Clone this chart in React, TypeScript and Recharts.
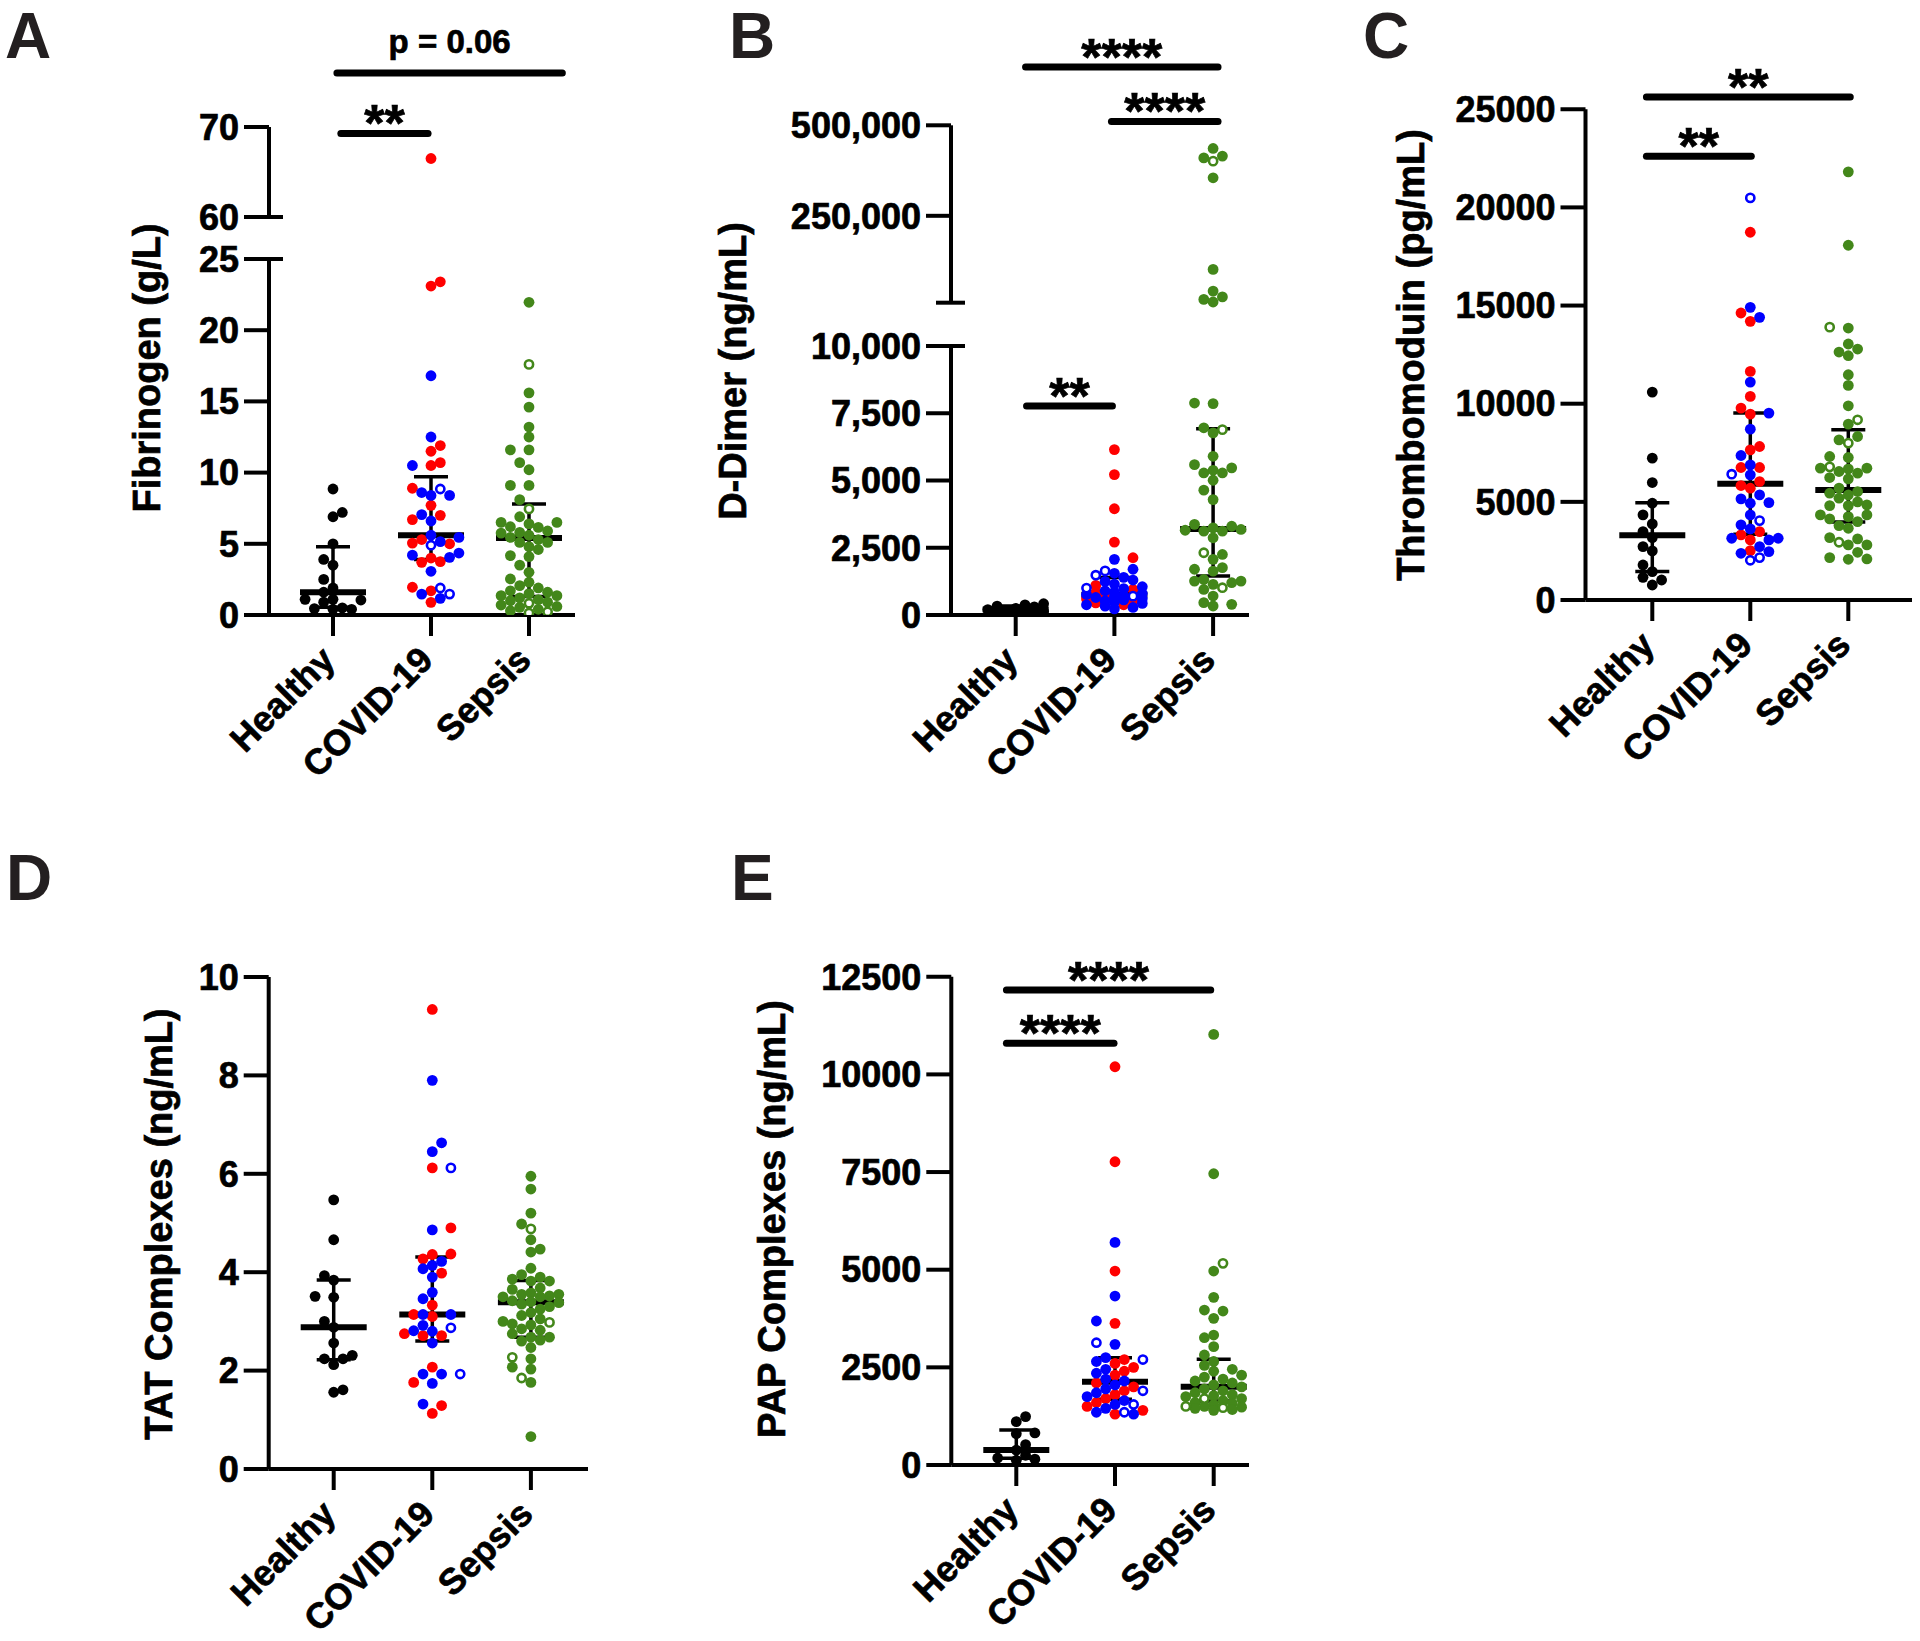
import React from 'react';
import { ScatterChart, Scatter, XAxis, YAxis, ReferenceLine } from 'recharts';

const FONT = '"Liberation Sans", Arial, Helvetica, sans-serif';
const BLACK = '#000000';
const RED = '#ff0000';
const BLUE = '#0000ff';
const GREEN = '#43871a';
const TEXT_STROKE = 0.7;
const PAGE_H = 1641;

const categories = ['Healthy', 'COVID-19', 'Sepsis'];

// ---------- Panel A : Fibrinogen (g/L) ----------
const fibTicks = [0, 5, 10, 15, 20, 25, 60, 70];
const fibHealthy = [8.85, 7.2, 6.9, 5.0, 3.9, 3.5, 2.5, 1.9, 1.6, 1.1, 1.05, 1.1, 0.9, 0.4, 0.45, 0.5, 0.4];
const fibCovidRed = [66.5, 23.1, 23.4, 11.9, 11.5, 10.7, 10.5, 8.9, 7.7, 7.0, 6.7, 5.05, 5.3, 5.0, 3.75, 4.0, 3.7, 1.95, 1.7, 0.89];
const fibCovidBlue = [16.8, 12.5, 10.5, 8.6, 8.4, 8.4, 7.05, 6.6, 5.45, 5.6, 5.15, 4.2, 4.35, 4.05, 3.07, 1.17, 1.47];
const fibCovidBlueOpen = [8.85, 4.9, 1.9, 1.47];
const fibSepsis = [21.96, 15.6, 14.6, 13.2, 12.5, 11.6, 11.6, 10.7, 10.2, 9.1, 9.1, 8.1, 6.4, 6.5, 6.9, 6.5, 5.75, 5.8, 6.15, 5.1, 5.1, 5.45, 5.6, 4.8, 4.1, 4.17, 3.5, 2.53, 2.06, 1.7, 1.6, 1.36, 1.36, 0.9, 1.08, 1.0, 0.4, 0.54, 6.2, 5.9, 5.3, 4.6, 3.0, 2.3, 1.9, 1.2, 0.7, 0.6, 0.3, 1.5];
const fibSepsisOpen = [17.6, 7.45, 0.82, 0.23, 0.14];
const fibMedian = [1.6, 5.6, 5.4];
const fibQ1 = [0.55, 3.9, 1.3];
const fibQ3 = [4.8, 9.7, 7.8];

// ---------- Panel B : D-Dimer (ng/mL) ----------
const ddTicks = [0, 2500, 5000, 7500, 10000, 250000, 500000];
const ddHealthy = [420, 380, 330, 300, 250, 200, 160, 130, 100, 80, 60, 40];
const ddCovidRed = [6150, 5220, 3950, 2710, 2130, 1100, 950, 830, 700, 600, 520, 450, 380];
const ddCovidBlue = [2070, 1700, 1550, 1400, 1300, 1250, 1150, 1050, 980, 900, 850, 800, 760, 720, 680, 650, 600, 560, 520, 480, 430, 380, 330, 280, 230];
const ddCovidBlueOpen = [1640, 1480, 1000, 700];
const ddSepsis = [436000, 415000, 410000, 355000, 102000, 42000, 26000, 19000, 12000, 7880, 7860, 6770, 6960, 5900, 5590, 5470, 5380, 5280, 5280, 5010, 4640, 4290, 3370, 3240, 3180, 3120, 3120, 2870, 2250, 2070, 1760, 1700, 1630, 1320, 1260, 1260, 1200, 1140, 950, 705, 458, 396, 334, 3300, 3150];
const ddSepsisOpen = [401000, 6890, 2314, 1015];
const ddMedian = [200, 750, 3200];
const ddQ1 = [90, 580, 1450];
const ddQ3 = [330, 1390, 6920];

// ---------- Panel C : Thrombomodulin (pg/mL) ----------
const tmTicks = [0, 5000, 10000, 15000, 20000, 25000];
const tmHealthy = [10590, 7225, 5984, 4930, 4335, 3876, 3485, 3180, 2720, 2500, 1785, 1445, 1156, 1020, 765];
const tmCovidRed = [18734, 14620, 14195, 11645, 10370, 9775, 9470, 7650, 7820, 6749, 6749, 6035, 5695, 5831, 3485, 3315, 3060, 2516];
const tmCovidBlue = [14909, 14399, 11101, 9520, 8704, 7361, 6885, 6375, 5151, 4930, 4964, 5355, 4335, 3621, 3145, 3825, 3145, 3060, 2465, 2720, 2380];
const tmCovidBlueOpen = [20485, 6409, 4046, 2023, 2159];
const tmSepsis = [21811, 18071, 13855, 13040, 12631, 12784, 12444, 11475, 10931, 9894, 8959, 8330, 8160, 7310, 7259, 6715, 6715, 6545, 6460, 6681, 6171, 6239, 5185, 5355, 5525, 5440, 4811, 4811, 4845, 4250, 3995, 4335, 4335, 4131, 3655, 3791, 3179, 3111, 2805, 2805, 2431, 2091, 2159, 2074, 5700, 5000];
const tmSepsisOpen = [13900, 9180, 7990, 6783, 2941];
const tmMedian = [3300, 5916, 5610];
const tmQ1 = [1450, 3349, 3978];
const tmQ3 = [4950, 9520, 8670];

// ---------- Panel D : TAT Complexes (ng/mL) ----------
const tatTicks = [0, 2, 4, 6, 8, 10];
const tatHealthy = [5.47, 4.66, 3.93, 3.84, 3.49, 3.51, 3.0, 2.88, 2.56, 2.24, 2.24, 2.31, 2.12, 1.56, 1.61];
const tatCovidRed = [9.34, 6.12, 4.9, 4.36, 4.37, 4.27, 3.98, 3.33, 3.14, 3.1, 2.71, 2.71, 2.75, 2.07, 1.76, 1.29, 1.13];
const tatCovidBlue = [7.9, 6.63, 6.45, 4.86, 4.22, 4.14, 4.07, 3.9, 3.59, 3.46, 3.14, 3.14, 2.81, 2.92, 2.8, 2.56, 1.93, 1.93, 1.74, 1.32];
const tatCovidBlueOpen = [6.12, 2.87, 1.93];
const tatSepsis = [5.95, 5.69, 5.2, 4.98, 4.66, 4.47, 4.41, 4.08, 3.95, 3.9, 3.86, 3.82, 3.82, 3.65, 3.68, 3.58, 3.55, 3.55, 3.52, 3.5, 3.5, 3.42, 3.4, 3.38, 3.35, 3.3, 3.25, 3.18, 3.12, 3.05, 3.0, 2.95, 2.93, 2.85, 2.82, 2.75, 2.68, 2.68, 2.62, 2.6, 2.47, 2.24, 2.03, 2.07, 1.76, 0.66];
const tatSepsisOpen = [4.88, 2.98, 2.27, 1.85];
const tatMedian = [2.88, 3.14, 3.39];
const tatQ1 = [2.22, 2.6, 2.68];
const tatQ3 = [3.84, 4.31, 3.83];

// ---------- Panel E : PAP Complexes (ng/mL) ----------
const papTicks = [0, 2500, 5000, 7500, 10000, 12500];
const papHealthy = [1240, 1110, 820, 800, 520, 380, 250, 180, 150, 120];
const papCovidRed = [10196, 7764, 4966, 3626, 2700, 2600, 2500, 2400, 2300, 2100, 2000, 1900, 1800, 1700, 1600, 1500, 1400, 1300];
const papCovidBlue = [5699, 4326, 3686, 3089, 2750, 2650, 2450, 2350, 2200, 2150, 2050, 1950, 1850, 1750, 1650, 1550, 1450, 1350, 1300];
const papCovidBlueOpen = [3131, 2700, 1900, 1550, 1350];
const papSepsis = [11023, 7457, 4966, 4292, 3967, 3942, 3754, 3327, 3259, 3029, 2816, 2650, 2550, 2450, 2400, 2300, 2250, 2200, 2150, 2100, 2050, 2000, 1950, 1900, 1850, 1800, 1780, 1750, 1700, 1650, 1600, 1580, 1550, 1500, 1480, 1450, 1420, 1400];
const papSepsisOpen = [5162, 1700, 1467, 1500];
const papMedian = [384, 2133, 2005];
const papQ1 = [170, 1681, 1638];
const papQ3 = [896, 2747, 2705];

// ---------- layout / styling ----------
type Group = { values: number[]; color: string; open?: boolean };
type Piece = { lo: number; hi: number; k: number; d0?: number };
type Sig = { from: number; to: number; y: number; text: string; isP?: boolean };

const plain = (v: number) => String(v);
const comma = (v: number) => v.toLocaleString('en-US');

const panels = [
  {
    key: 'A', colLeft: 0, rowTop: 0, axisX: 269, zeroY: 615, pxPerD: 14.24, catX1: 333, catSp: 98, rightX: 575, plotTop: 10,
    pieces: [{ lo: 0, hi: 25, k: 1 }, { lo: 60, hi: 70, k: 9 / 14.24 }] as Piece[], gap: 42 / 14.24, capLeftUpper: 0,
    ticks: fibTicks, fmt: plain, title: 'Fibrinogen (g/L)', titleX: 160, titleY: 368,
    groups: [
      [{ values: fibHealthy, color: BLACK }],
      [{ values: fibCovidRed, color: RED }, { values: fibCovidBlue, color: BLUE }, { values: fibCovidBlueOpen, color: BLUE, open: true }],
      [{ values: fibSepsis, color: GREEN }, { values: fibSepsisOpen, color: GREEN, open: true }],
    ] as Group[][],
    median: fibMedian, q1: fibQ1, q3: fibQ3,
    sigs: [{ from: 1.08, to: 1.97, y: 69.28, text: '**' }, { from: 1.04, to: 3.34, y: 76.0, text: 'p = 0.06', isP: true }] as Sig[],
  },
  {
    key: 'B', colLeft: 600, rowTop: 0, axisX: 951, zeroY: 615, pxPerD: 26.9, catX1: 1015.7, catSp: 98.7, rightX: 1249, plotTop: 10,
    pieces: [{ lo: 0, hi: 10000, k: 0.001 }, { lo: 10000, hi: 500000, k: (177.4 / 26.9) / 490000 }] as Piece[], gap: 43.3 / 26.9, capLeftUpper: 15,
    ticks: ddTicks, fmt: comma, title: 'D-Dimer (ng/mL)', titleX: 746, titleY: 371,
    groups: [
      [{ values: ddHealthy, color: BLACK }],
      [{ values: ddCovidRed, color: RED }, { values: ddCovidBlue, color: BLUE }, { values: ddCovidBlueOpen, color: BLUE, open: true }],
      [{ values: ddSepsis, color: GREEN }, { values: ddSepsisOpen, color: GREEN, open: true }],
    ] as Group[][],
    median: ddMedian, q1: ddQ1, q3: ddQ3,
    sigs: [{ from: 1.11, to: 1.98, y: 7770, text: '**' }, { from: 1.97, to: 3.05, y: 510770, text: '****' }, { from: 1.1, to: 3.05, y: 661000, text: '****' }] as Sig[],
  },
  {
    key: 'C', colLeft: 1240, rowTop: 0, axisX: 1585.5, zeroY: 600, pxPerD: 19.63 / 1000, catX1: 1652.3, catSp: 98, rightX: 1912, plotTop: 10,
    pieces: [{ lo: 0, hi: 25000, k: 1 }] as Piece[], gap: 0, capLeftUpper: 0,
    ticks: tmTicks, fmt: plain, title: 'Thrombomoduin (pg/mL)', titleX: 1424, titleY: 355,
    groups: [
      [{ values: tmHealthy, color: BLACK }],
      [{ values: tmCovidRed, color: RED }, { values: tmCovidBlue, color: BLUE }, { values: tmCovidBlueOpen, color: BLUE, open: true }],
      [{ values: tmSepsis, color: GREEN }, { values: tmSepsisOpen, color: GREEN, open: true }],
    ] as Group[][],
    median: tmMedian, q1: tmQ1, q3: tmQ3,
    sigs: [{ from: 0.94, to: 2.01, y: 22600, text: '**' }, { from: 0.94, to: 3.02, y: 25620, text: '**' }] as Sig[],
  },
  {
    key: 'D', colLeft: 0, rowTop: 830, axisX: 268.7, zeroY: 1469, pxPerD: 49.2, catX1: 333.7, catSp: 98.6, rightX: 588, plotTop: 900,
    pieces: [{ lo: 0, hi: 10, k: 1 }] as Piece[], gap: 0, capLeftUpper: 0,
    ticks: tatTicks, fmt: plain, title: 'TAT Complexes (ng/mL)', titleX: 172, titleY: 1224,
    groups: [
      [{ values: tatHealthy, color: BLACK }],
      [{ values: tatCovidRed, color: RED }, { values: tatCovidBlue, color: BLUE }, { values: tatCovidBlueOpen, color: BLUE, open: true }],
      [{ values: tatSepsis, color: GREEN }, { values: tatSepsisOpen, color: GREEN, open: true }],
    ] as Group[][],
    median: tatMedian, q1: tatQ1, q3: tatQ3,
    sigs: [] as Sig[],
  },
  {
    key: 'E', colLeft: 600, rowTop: 830, axisX: 951.3, zeroY: 1465, pxPerD: 39.06 / 1000, catX1: 1016.3, catSp: 98.7, rightX: 1249, plotTop: 900,
    pieces: [{ lo: 0, hi: 12500, k: 1 }] as Piece[], gap: 0, capLeftUpper: 0,
    ticks: papTicks, fmt: plain, title: 'PAP Complexes (ng/mL)', titleX: 785, titleY: 1219,
    groups: [
      [{ values: papHealthy, color: BLACK }],
      [{ values: papCovidRed, color: RED }, { values: papCovidBlue, color: BLUE }, { values: papCovidBlueOpen, color: BLUE, open: true }],
      [{ values: papSepsis, color: GREEN }, { values: papSepsisOpen, color: GREEN, open: true }],
    ] as Group[][],
    median: papMedian, q1: papQ1, q3: papQ3,
    sigs: [{ from: 0.9, to: 1.99, y: 10796, text: '****' }, { from: 0.9, to: 2.97, y: 12161, text: '****' }] as Sig[],
  },
];

const letters = [
  { t: 'A', x: 5, y: 58 },
  { t: 'B', x: 729, y: 58 },
  { t: 'C', x: 1363, y: 58 },
  { t: 'D', x: 6, y: 900 },
  { t: 'E', x: 731, y: 900 },
];

// beeswarm layout in pixel space (returns horizontal px offsets)
function swarm(vals: number[], toPx: (v: number) => number, step: number, minDist: number, maxK: number): number[] {
  const order = vals.map((_, i) => i).sort((a, b) => vals[a] - vals[b]);
  const placed: { x: number; y: number }[] = [];
  const out = new Array(vals.length).fill(0);
  order.forEach((i, n) => {
    const y = toPx(vals[i]);
    const cands = [0];
    for (let k = 1; k <= maxK; k++) {
      if (n % 2) cands.push(k, -k);
      else cands.push(-k, k);
    }
    let best = 0;
    let bestScore = -1;
    for (const k of cands) {
      const x = k * step;
      let md = Infinity;
      for (const p of placed) {
        const dd = Math.hypot(p.x - x, p.y - y);
        if (dd < md) md = dd;
      }
      if (md >= minDist) {
        best = x;
        bestScore = Infinity;
        break;
      }
      if (md > bestScore) {
        bestScore = md;
        best = x;
      }
    }
    placed.push({ x: best, y });
    out[i] = best;
  });
  return out;
}

const dotShape = (color: string, open?: boolean) => (p: any) => {
  if (p == null || p.cx == null || p.cy == null) return <g />;
  return open ? (
    <circle cx={p.cx} cy={p.cy} r={4.1} fill="#ffffff" stroke={color} strokeWidth={2.6} />
  ) : (
    <circle cx={p.cx} cy={p.cy} r={5.4} fill={color} />
  );
};

function Panel({ cfg }: { cfg: any }) {
  const { colLeft, rowTop, axisX, zeroY, pxPerD, catX1, catSp, rightX, plotTop } = cfg;
  const pieces: Piece[] = [];
  let acc = 0;
  cfg.pieces.forEach((p: Piece, i: number) => {
    if (i > 0) acc += cfg.gap;
    pieces.push({ ...p, d0: acc });
    acc += (p.hi - p.lo) * p.k;
  });
  const toD = (v: number) => {
    for (let i = 0; i < pieces.length; i++) {
      const p = pieces[i];
      if (v <= p.hi || i === pieces.length - 1) return (p.d0 as number) + (v - p.lo) * p.k;
    }
    return 0;
  };
  const xmin = 1 - (catX1 - axisX) / catSp;
  const xmax = 1 + (rightX - catX1) / catSp;
  const dmax = (zeroY - plotTop) / pxPerD;
  const W = rightX - colLeft + 10;
  const xAxisH = Math.min(195, PAGE_H - zeroY);
  const H = zeroY - rowTop + xAxisH;
  const yAxisWidth = axisX - colLeft;
  const px = (n: number) => n / catSp;

  const series: { key: string; data: { x: number; y: number }[]; color: string; open?: boolean }[] = [];
  cfg.groups.forEach((gs: Group[], ci: number) => {
    const all: number[] = [];
    gs.forEach((g) => all.push(...g.values));
    const offs = swarm(all, (v) => toD(v) * pxPerD, 9.3, 9.6, 3);
    let idx = 0;
    gs.forEach((g, gi) => {
      const data = g.values.map((v) => {
        const o = offs[idx++];
        return { x: ci + 1 + o / catSp, y: toD(v) };
      });
      series.push({ key: `${cfg.key}-${ci}-${gi}`, data, color: g.color, open: g.open });
    });
  });
  const ordered = [...series.filter((s) => !s.open), ...series.filter((s) => s.open)];

  const tickD = cfg.ticks.map((t: number) => toD(t));
  const fmtTick = (d: number) => {
    const t = cfg.ticks.find((tv: number) => Math.abs(toD(tv) - d) < 1e-6);
    return t === undefined ? '' : cfg.fmt(t);
  };

  const CatTick = (p: any) => {
    const tx = p.x + 4;
    const ty = p.y + 24;
    return (
      <text x={tx} y={ty} transform={`rotate(-45 ${tx} ${ty})`} textAnchor="end" fontSize={36} fontWeight={700} fontFamily={FONT} fill="#000" stroke="#000" strokeWidth={TEXT_STROKE}>
        {categories[Math.round(p.payload.value) - 1]}
      </text>
    );
  };

  const lx = cfg.titleX - colLeft;
  const ly = cfg.titleY - rowTop;
  const titleLabel = () => (
    <text x={lx} y={ly} transform={`rotate(-90 ${lx} ${ly})`} textAnchor="middle" fontSize={38} fontWeight={700} fontFamily={FONT} fill="#000" stroke="#000" strokeWidth={TEXT_STROKE}>
      {cfg.title}
    </text>
  );

  const sigLabel = (text: string, isP?: boolean) => (props: any) => {
    const vb = props.viewBox || {};
    const cx = (vb.x || 0) + (vb.width || 0) / 2;
    const y = (vb.y || 0) + (isP ? -20 : 8);
    return (
      <text x={cx} y={y} textAnchor="middle" fontSize={isP ? 33 : 52} fontWeight={700} fontFamily={FONT} fill="#000" stroke="#000" strokeWidth={TEXT_STROKE}>
        {text}
      </text>
    );
  };

  const refLines: React.ReactNode[] = [];
  pieces.forEach((p, i) => {
    const d0 = p.d0 as number;
    const d1 = d0 + (p.hi - p.lo) * p.k;
    refLines.push(
      <ReferenceLine key={`ax${i}`} segment={[{ x: xmin, y: d0 }, { x: xmin, y: d1 }]} stroke="#000" strokeWidth={4} ifOverflow="visible" />
    );
    if (i < pieces.length - 1) {
      refLines.push(
        <ReferenceLine key={`capT${i}`} segment={[{ x: xmin, y: d1 }, { x: xmin + px(14), y: d1 }]} stroke="#000" strokeWidth={4} ifOverflow="visible" />
      );
    }
    if (i > 0) {
      refLines.push(
        <ReferenceLine key={`capB${i}`} segment={[{ x: xmin - px(cfg.capLeftUpper), y: d0 }, { x: xmin + px(14), y: d0 }]} stroke="#000" strokeWidth={4} ifOverflow="visible" />
      );
    }
  });
  [0, 1, 2].forEach((ci) => {
    const c = ci + 1;
    const m = toD(cfg.median[ci]);
    const lo = toD(cfg.q1[ci]);
    const hi = toD(cfg.q3[ci]);
    refLines.push(
      <ReferenceLine key={`v${ci}`} segment={[{ x: c, y: lo }, { x: c, y: hi }]} stroke="#000" strokeWidth={3.5} ifOverflow="visible" />,
      <ReferenceLine key={`lo${ci}`} segment={[{ x: c - px(17), y: lo }, { x: c + px(17), y: lo }]} stroke="#000" strokeWidth={3.5} ifOverflow="visible" />,
      <ReferenceLine key={`hi${ci}`} segment={[{ x: c - px(17), y: hi }, { x: c + px(17), y: hi }]} stroke="#000" strokeWidth={3.5} ifOverflow="visible" />,
      <ReferenceLine key={`m${ci}`} segment={[{ x: c - px(33), y: m }, { x: c + px(33), y: m }]} stroke="#000" strokeWidth={6} ifOverflow="visible" />
    );
  });
  cfg.sigs.forEach((s: Sig, i: number) => {
    const d = toD(s.y);
    refLines.push(
      <ReferenceLine
        key={`sig${i}`}
        segment={[{ x: s.from, y: d }, { x: s.to, y: d }]}
        stroke="#000"
        strokeWidth={7}
        strokeLinecap="round"
        ifOverflow="visible"
        label={sigLabel(s.text, s.isP)}
      />
    );
  });

  return (
    <div style={{ position: 'absolute', left: colLeft, top: rowTop, width: W, height: H }}>
      <ScatterChart width={W} height={H} margin={{ top: plotTop - rowTop, right: 10, bottom: 0, left: 0 }}>
        <XAxis
          type="number"
          dataKey="x"
          domain={[xmin, xmax]}
          allowDataOverflow
          ticks={[1, 2, 3]}
          interval={0}
          height={xAxisH}
          tickSize={21}
          tickMargin={2}
          axisLine={{ stroke: '#000', strokeWidth: 4 }}
          tickLine={{ stroke: '#000', strokeWidth: 4 }}
          tick={CatTick}
        />
        <YAxis
          type="number"
          dataKey="y"
          domain={[0, dmax]}
          allowDataOverflow
          ticks={tickD}
          interval={0}
          width={yAxisWidth}
          tickSize={25}
          tickMargin={5}
          axisLine={false}
          tickLine={{ stroke: '#000', strokeWidth: 4 }}
          tick={{ fontSize: 36, fontWeight: 700, fill: '#000', stroke: '#000', strokeWidth: TEXT_STROKE, fontFamily: FONT }}
          tickFormatter={fmtTick}
          label={titleLabel}
        />
        {ordered.map((s) => (
          <Scatter key={s.key} data={s.data} fill={s.color} isAnimationActive={false} shape={dotShape(s.color, s.open)} />
        ))}
        {refLines}
      </ScatterChart>
    </div>
  );
}

export default function App() {
  return (
    <div style={{ position: 'absolute', left: 0, top: 0, width: 1920, height: PAGE_H, background: '#fff', overflow: 'hidden' }}>
      {panels.map((cfg) => (
        <Panel key={cfg.key} cfg={cfg} />
      ))}
      <svg width={1920} height={PAGE_H} style={{ position: 'absolute', left: 0, top: 0, pointerEvents: 'none' }}>
        {letters.map((l) => (
          <text key={l.t} x={l.x} y={l.y} fontSize={64} fontWeight={700} fontFamily={FONT} fill="#231f20">
            {l.t}
          </text>
        ))}
      </svg>
    </div>
  );
}
